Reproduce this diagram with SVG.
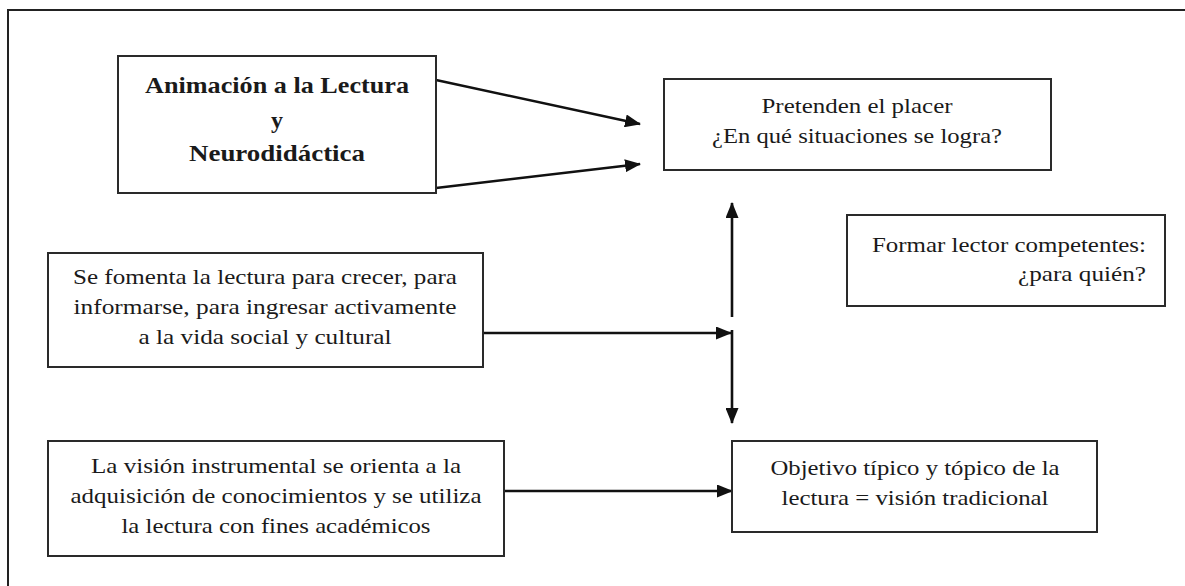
<svg xmlns="http://www.w3.org/2000/svg" width="1185" height="586" viewBox="0 0 1185 586">
<style>
.box{fill:#fff;stroke:#2a2a2a;stroke-width:2}
.t{font-family:"Liberation Serif","Times New Roman",serif;font-size:22px;fill:#1a1a1a;text-anchor:middle}
.b{font-weight:bold;font-size:24px}
.e{text-anchor:end}
.c{stroke:#111;stroke-width:2.6;fill:none}
</style>
<defs>
<marker id="ah" viewBox="0 0 16 13" refX="15" refY="6.5" markerWidth="16" markerHeight="13" markerUnits="userSpaceOnUse" orient="auto">
<path d="M0,0 L16,6.5 L0,13 Z" fill="#111"/>
</marker>
</defs>
<path d="M8,586 V10 H1185" fill="none" stroke="#222" stroke-width="2"/>
<g id="connectors">
<line class="c" x1="436" y1="80" x2="640" y2="124" marker-end="url(#ah)"/>
<line class="c" x1="436" y1="188" x2="640" y2="164" marker-end="url(#ah)"/>
<line class="c" x1="732" y1="317" x2="732" y2="203" marker-end="url(#ah)"/>
<line class="c" x1="483" y1="333" x2="731" y2="333" marker-end="url(#ah)"/>
<line class="c" x1="732" y1="330" x2="732" y2="423" marker-end="url(#ah)"/>
<line class="c" x1="504" y1="491" x2="732" y2="491" marker-end="url(#ah)"/>
</g>
<g id="animacion">
<rect class="box" x="118" y="56" width="318" height="137"/>
<text class="t b" x="277" y="93" textLength="264" lengthAdjust="spacingAndGlyphs">Animación a la Lectura</text>
<text class="t b" x="277" y="128">y</text>
<text class="t b" x="277" y="161" textLength="176" lengthAdjust="spacingAndGlyphs">Neurodidáctica</text>
</g>
<g id="pretenden">
<rect class="box" x="664" y="79" width="387" height="91"/>
<text class="t" x="857" y="113" textLength="191" lengthAdjust="spacingAndGlyphs">Pretenden el placer</text>
<text class="t" x="857" y="143" textLength="290" lengthAdjust="spacingAndGlyphs">¿En qué situaciones se logra?</text>
</g>
<g id="formar">
<rect class="box" x="847" y="215" width="318" height="91"/>
<text class="t e" x="1146" y="252" textLength="274" lengthAdjust="spacingAndGlyphs">Formar lector competentes:</text>
<text class="t e" x="1146" y="281" textLength="128" lengthAdjust="spacingAndGlyphs">¿para quién?</text>
</g>
<g id="fomenta">
<rect class="box" x="48" y="253" width="435" height="114"/>
<text class="t" x="265" y="284" textLength="384" lengthAdjust="spacingAndGlyphs">Se fomenta la lectura para crecer, para</text>
<text class="t" x="265" y="314" textLength="383" lengthAdjust="spacingAndGlyphs">informarse, para ingresar activamente</text>
<text class="t" x="265" y="344" textLength="253" lengthAdjust="spacingAndGlyphs">a la vida social y cultural</text>
</g>
<g id="instrumental">
<rect class="box" x="48" y="441" width="456" height="115"/>
<text class="t" x="276" y="473" textLength="370" lengthAdjust="spacingAndGlyphs">La visión instrumental se orienta a la</text>
<text class="t" x="276" y="503" textLength="411" lengthAdjust="spacingAndGlyphs">adquisición de conocimientos y se utiliza</text>
<text class="t" x="276" y="533" textLength="309" lengthAdjust="spacingAndGlyphs">la lectura con fines académicos</text>
</g>
<g id="objetivo">
<rect class="box" x="732" y="441" width="365" height="91"/>
<text class="t" x="915" y="475" textLength="289" lengthAdjust="spacingAndGlyphs">Objetivo típico y tópico de la</text>
<text class="t" x="915" y="505" textLength="267" lengthAdjust="spacingAndGlyphs">lectura = visión tradicional</text>
</g>
</svg>
